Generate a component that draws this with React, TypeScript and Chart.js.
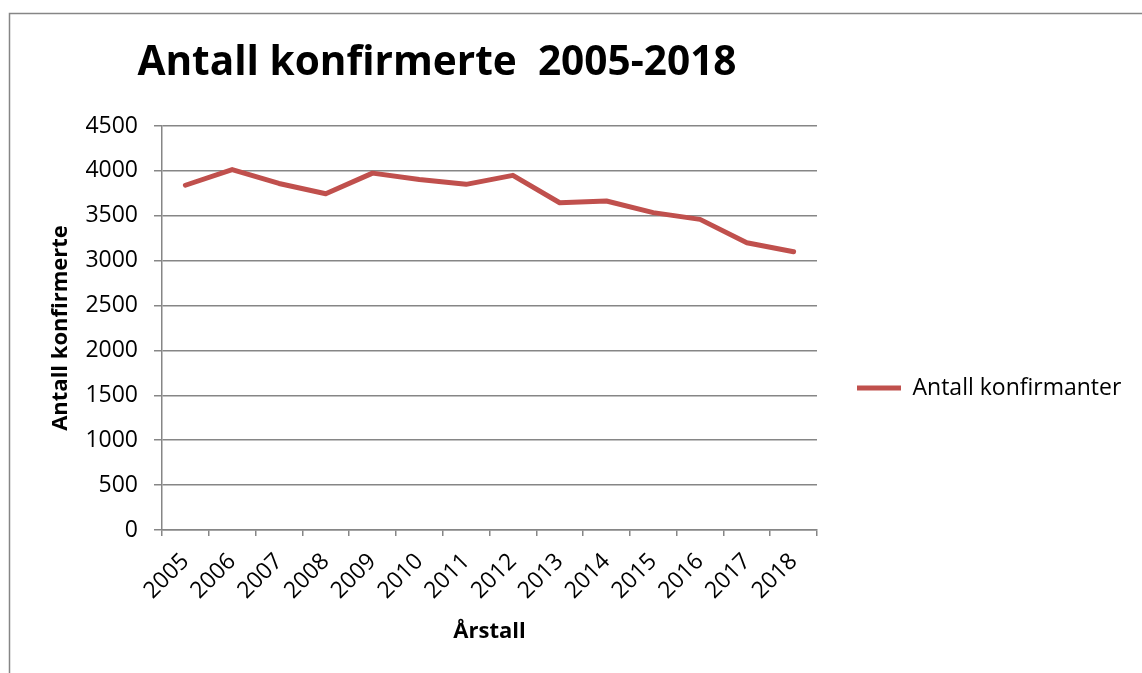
import React, { useEffect, useRef } from "react";
import { Chart, registerables } from "chart.js";

Chart.register(...registerables);

const TITLE = "Antall konfirmerte  2005-2018";
const SERIES_NAME = "Antall konfirmanter";
const Y_TITLE = "Antall konfirmerte";
const X_TITLE = "Årstall";

const years = ["2005", "2006", "2007", "2008", "2009", "2010", "2011", "2012", "2013", "2014", "2015", "2016", "2017", "2018"];
const confirmed = [3840, 4015, 3860, 3745, 3975, 3905, 3850, 3950, 3645, 3665, 3535, 3460, 3200, 3100];

const FONT = "'Open Sans', 'Noto Sans', sans-serif";
const GRID = "#868686";
const RED = "#C0504D";

const LEGEND_FONT_SIZE = 23;
const LEGEND_PAD = 40;
const LEGEND_BOX = 44;
const PLOT_RIGHT = 817;

const framePlugin = {
  id: "frame",
  beforeDraw(chart: any) {
    const ctx = chart.ctx;
    ctx.save();
    ctx.fillStyle = "#ffffff";
    ctx.fillRect(0, 0, chart.width, chart.height);
    ctx.strokeStyle = GRID;
    ctx.lineWidth = 1.5;
    ctx.strokeRect(9.5, 13.5, chart.width + 20, chart.height + 20);
    ctx.restore();
  },
  afterDraw(chart: any) {
    const ctx = chart.ctx;
    ctx.save();
    ctx.fillStyle = "#000000";
    ctx.font = `bold 40.6px ${FONT}`;
    ctx.textAlign = "center";
    ctx.textBaseline = "alphabetic";
    ctx.fillText(TITLE, 437, 75);
    ctx.restore();
  },
};

export default function App() {
  const ref = useRef<HTMLCanvasElement | null>(null);
  useEffect(() => {
    if (!ref.current) return;
    const mctx = document.createElement("canvas").getContext("2d")!;
    mctx.font = `${LEGEND_FONT_SIZE}px ${FONT}`;
    const textW = mctx.measureText(SERIES_NAME).width;
    const legendW = LEGEND_PAD + LEGEND_BOX + LEGEND_FONT_SIZE / 2 + textW + 10;
    const padRight = Math.max(0, 1142 - PLOT_RIGHT - legendW);

    const chart = new Chart(ref.current, {
      type: "line",
      data: {
        labels: years,
        datasets: [
          {
            label: SERIES_NAME,
            data: confirmed,
            borderColor: RED,
            backgroundColor: RED,
            borderWidth: 5,
            borderCapStyle: "round",
            borderJoinStyle: "round",
            pointRadius: 0,
            pointStyle: "line",
            tension: 0,
          },
        ],
      },
      options: {
        responsive: false,
        maintainAspectRatio: false,
        animation: false,
        layout: { padding: { left: 9, top: 126, right: padRight, bottom: 23 } },
        plugins: {
          title: { display: false },
          tooltip: { enabled: false },
          legend: {
            position: "right",
            maxWidth: 500,
            labels: {
              usePointStyle: true,
              pointStyle: "line",
              pointStyleWidth: LEGEND_BOX,
              padding: LEGEND_PAD,
              color: "#000",
              font: { family: FONT, size: LEGEND_FONT_SIZE },
            },
          },
        },
        scales: {
          x: {
            type: "category",
            offset: true,
            grid: { offset: true, drawOnChartArea: false, drawTicks: true, tickLength: 6, color: GRID, lineWidth: 1.5 },
            border: { color: GRID, width: 1.5 },
            ticks: { maxRotation: 45, minRotation: 45, color: "#000", font: { family: FONT, size: 23 }, padding: 12 },
            title: {
              display: true,
              text: X_TITLE,
              color: "#000",
              font: { family: FONT, size: 22, weight: "bold" },
              padding: { top: 0, bottom: 4.8 },
            },
            afterFit(scale: any) {
              scale.height = 120;
            },
          },
          y: {
            min: 0,
            max: 4500,
            ticks: {
              stepSize: 500,
              color: "#000",
              font: { family: FONT, size: 23 },
              padding: 16,
              callback: (v: any) => String(v),
            },
            grid: { color: GRID, tickLength: 8, drawTicks: true, lineWidth: 1.5 },
            border: { color: GRID, width: 1.5 },
            title: {
              display: true,
              text: Y_TITLE,
              color: "#000",
              font: { family: FONT, size: 22, weight: "bold" },
              padding: { top: 38.8, bottom: 0 },
            },
            afterFit(scale: any) {
              scale.width = 153;
            },
          },
        },
      },
      plugins: [framePlugin],
    });
    return () => chart.destroy();
  }, []);
  return (
    <div style={{ position: "fixed", left: 0, top: 0, width: 1142, height: 673 }}>
      <canvas ref={ref} width={1142} height={673} style={{ width: 1142, height: 673, display: "block" }} />
    </div>
  );
}
